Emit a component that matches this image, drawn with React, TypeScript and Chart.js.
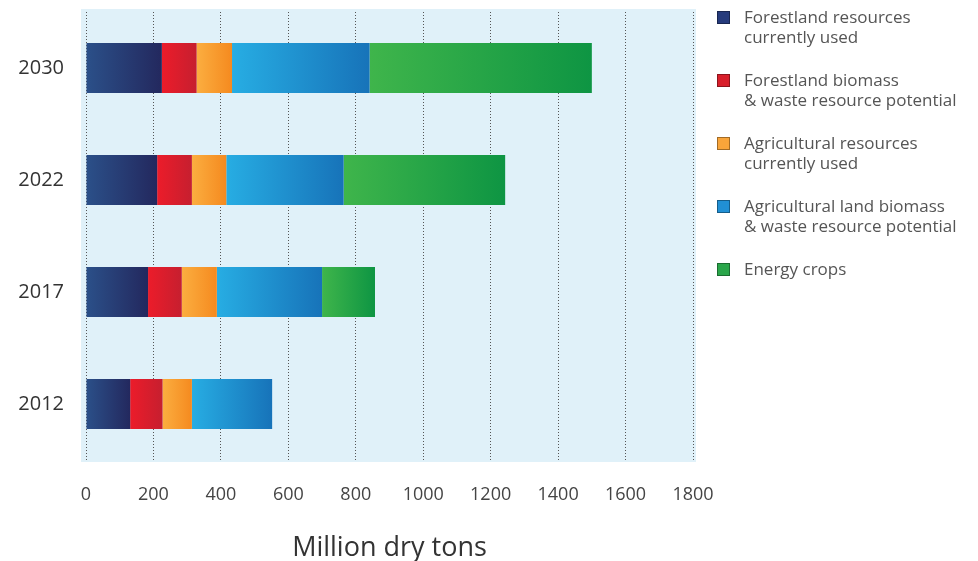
import React, { useEffect, useRef } from "react";
import { Chart, registerables } from "chart.js";

Chart.register(...registerables);

const years = ["2030", "2022", "2017", "2012"];
const forestUsed = [225, 211, 184, 131];
const forestPotential = [103, 103, 100, 96];
const agUsed = [105, 102, 104, 87];
const agPotential = [408, 348, 312, 238];
const energyCrops = [659, 479, 157, 0];
const xTicks = [0, 200, 400, 600, 800, 1000, 1200, 1400, 1600, 1800];

const seriesNames = [
  ["Forestland resources", "currently used"],
  ["Forestland biomass", "& waste resource potential"],
  ["Agricultural resources", "currently used"],
  ["Agricultural land biomass", "& waste resource potential"],
  ["Energy crops"],
];
const seriesValues = [forestUsed, forestPotential, agUsed, agPotential, energyCrops];
const gradients = [
  ["#2b5089", "#23285e"],
  ["#ec1c2a", "#c61f2f"],
  ["#fbae40", "#f58a1f"],
  ["#27ade3", "#1773b9"],
  ["#3fb54b", "#0e9543"],
];
const legendColors = ["#263b7c", "#d81f2b", "#f9a53a", "#2190d5", "#2aa64a"];

const FONT = "'Open Sans', sans-serif";

export default function App() {
  const ref = useRef<HTMLCanvasElement | null>(null);

  useEffect(() => {
    document.body.style.margin = "0";
    const canvas = ref.current;
    if (!canvas) return;

    const bgPlugin = {
      id: "plotBg",
      beforeDraw(chart: any) {
        const { ctx, chartArea } = chart;
        if (!chartArea) return;
        ctx.save();
        ctx.fillStyle = "#e0f1f9";
        ctx.fillRect(chartArea.left - 5, chartArea.top - 3, chartArea.right - chartArea.left + 8, chartArea.bottom - chartArea.top + 5);
        ctx.restore();
      },
    };

    const datasets = seriesValues.map((vals, di) => ({
      label: seriesNames[di].join(" "),
      data: vals,
      backgroundColor: (c: any) => {
        const chart = c.chart;
        const xs = chart.scales && chart.scales.x;
        if (!xs || c.type !== "data" || !chart.chartArea) return gradients[di][1];
        const idx = c.dataIndex;
        let start = 0;
        for (let j = 0; j < di; j++) start += seriesValues[j][idx];
        const x0 = xs.getPixelForValue(start);
        const x1 = xs.getPixelForValue(start + vals[idx]);
        if (!isFinite(x0) || !isFinite(x1) || x1 - x0 < 1) return gradients[di][1];
        const g = chart.ctx.createLinearGradient(x0, 0, x1, 0);
        g.addColorStop(0, gradients[di][0]);
        g.addColorStop(1, gradients[di][1]);
        return g;
      },
      borderWidth: 0,
      barPercentage: 0.445,
      categoryPercentage: 1,
    }));

    const chart = new Chart(canvas, {
      type: "bar",
      data: { labels: years, datasets },
      plugins: [bgPlugin],
      options: {
        indexAxis: "y",
        animation: false,
        responsive: false,
        maintainAspectRatio: false,
        events: [],
        layout: { padding: { left: 0, right: 285, top: 12, bottom: 0 } },
        plugins: { legend: { display: false }, tooltip: { enabled: false } },
        scales: {
          x: {
            stacked: true,
            min: 0,
            max: 1800,
            afterBuildTicks: (s: any) => {
              s.ticks = xTicks.map((v) => ({ value: v }));
            },
            afterFit: (s: any) => {
              s.height = 101;
              s.paddingLeft = 0;
              s.paddingRight = 0;
            },
            border: { display: false, dash: [1, 2] },
            grid: {
              display: true,
              drawTicks: false,
              tickLength: 0,
              color: "#555",
              lineWidth: 1,
            },
            ticks: {
              padding: 24,
              color: "#444",
              font: { family: FONT, size: 18 },
              callback: (v: any) => String(v),
            },
            title: {
              display: true,
              text: "Million dry tons",
              color: "#333",
              font: { family: FONT, size: 27, lineHeight: 0.95 },
              padding: { top: 0, bottom: 0 },
            },
          },
          y: {
            stacked: true,
            afterFit: (s: any) => {
              s.width = 86;
              s.paddingTop = 0;
              s.paddingBottom = 0;
            },
            border: { display: false },
            grid: { display: false, drawTicks: false },
            ticks: {
              padding: 22,
              color: "#333",
              font: { family: FONT, size: 20 },
            },
          },
        },
      },
    } as any);

    return () => chart.destroy();
  }, []);

  return (
    <div style={{ position: "relative", width: 978, height: 561, background: "#fff" }}>
      <canvas ref={ref} width={978} height={561} style={{ position: "absolute", left: 0, top: 0 }} />
      {seriesNames.map((lines, i) => (
        <div
          key={i}
          style={{
            position: "absolute",
            left: 717,
            top: 7 + i * 63,
            display: "flex",
            alignItems: "flex-start",
            fontFamily: FONT,
            fontSize: 17,
            lineHeight: "20px",
            color: "#555",
          }}
        >
          <div
            style={{
              width: 11,
              height: 11,
              marginTop: 4,
              background: legendColors[i],
              border: "1px solid rgba(0,0,0,0.35)",
              marginRight: 14,
              flexShrink: 0,
            }}
          />
          <div>
            {lines.map((l, k) => (
              <div key={k} style={{ whiteSpace: "nowrap" }}>{l}</div>
            ))}
          </div>
        </div>
      ))}
    </div>
  );
}
